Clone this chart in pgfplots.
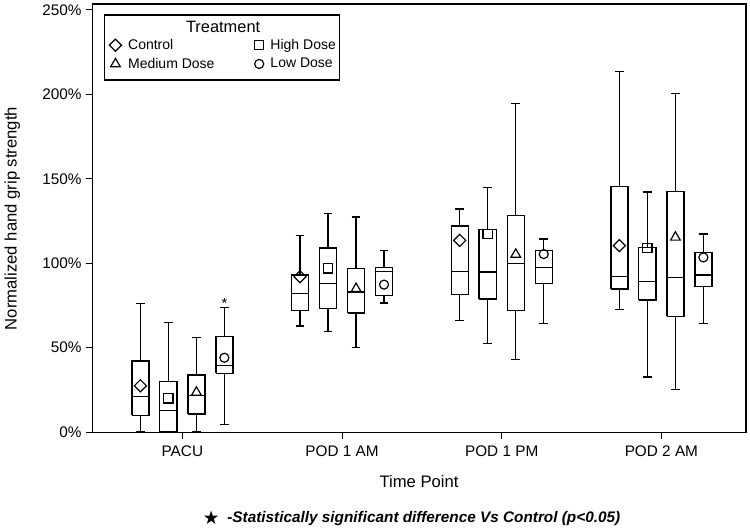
\documentclass[border=0pt]{standalone}
\usepackage{pgfplots}
\pgfplotsset{compat=1.18}
\usepackage{fontspec}
\setmainfont{Liberation Sans}
\newfontfamily\symfont{DejaVu Sans}
\begin{document}
\begin{tikzpicture}
\begin{axis}[
  scale only axis, width=490.5pt, height=321.75pt,
  xmin=-0.565, xmax=3.53, ymin=-0.5, ymax=253.5,
  xtick={0,1,2,3}, xticklabels={PACU,POD 1 AM,POD 1 PM,POD 2 AM},
  ytick={0,50,100,150,200,250},
  yticklabel={\pgfmathprintnumber{\tick}\%},
  /pgf/number format/assume math mode=true,
  tick align=outside, xtick pos=left, ytick pos=left,
  major tick length=4.5pt,
  tick style={black, line width=0.8pt},
  axis line style={black, line width=0.8pt},
  ticklabel style={font=\fontsize{11.5}{13}\selectfont},
  xticklabel style={yshift=-2pt},
  xlabel={Time Point}, ylabel={Normalized hand grip strength},
  label style={font=\fontsize{12.5}{15}\selectfont},
  xlabel style={at={(axis description cs:0.5,-0.1135)}, anchor=center},
  ylabel style={at={(axis description cs:-0.1223,0.5)}, anchor=center},
  clip=false,
  unbounded coords=jump,
  bx/.style={black, line width=1pt, forget plot, mark=none, line join=miter},
  legend columns=2,
  legend cell align=left,
  legend style={at={(axis description cs:0.026,0.925)}, anchor=north west, draw=none, fill=none,
    inner sep=0pt, font=\fontsize{10.5}{12}\selectfont, row sep=1pt,
    /tikz/every odd column/.append style={column sep=3pt},
    /tikz/every even column/.append style={column sep=28pt}},
]
% box = outline, median, upper whisker + cap, lower whisker + cap
% ---- PACU
\addplot[bx] coordinates {(-0.3165,9.8)(-0.2095,9.8)(-0.2095,42)(-0.3165,42)(-0.3165,9.8) (0,nan) (-0.3165,21)(-0.2095,21) (0,nan) (-0.263,42)(-0.263,76) (0,nan) (-0.2905,76)(-0.2355,76) (0,nan) (-0.263,9.8)(-0.263,0) (0,nan) (-0.2905,0)(-0.2355,0)};
\addplot[bx] coordinates {(-0.1415,0)(-0.0345,0)(-0.0345,30)(-0.1415,30)(-0.1415,0) (0,nan) (-0.1415,12.6)(-0.0345,12.6) (0,nan) (-0.088,30)(-0.088,65) (0,nan) (-0.1155,65)(-0.0605,65)};
\addplot[bx] coordinates {(0.0345,10.6)(0.1415,10.6)(0.1415,33.8)(0.0345,33.8)(0.0345,10.6) (0,nan) (0.0345,21.5)(0.1415,21.5) (0,nan) (0.088,33.8)(0.088,56) (0,nan) (0.0605,56)(0.1155,56) (0,nan) (0.088,10.6)(0.088,0) (0,nan) (0.0605,0)(0.1155,0)};
\addplot[bx] coordinates {(0.2095,34.7)(0.3165,34.7)(0.3165,56.5)(0.2095,56.5)(0.2095,34.7) (0,nan) (0.2095,39.5)(0.3165,39.5) (0,nan) (0.263,56.5)(0.263,73.8) (0,nan) (0.2355,73.8)(0.2905,73.8) (0,nan) (0.263,34.7)(0.263,4.5) (0,nan) (0.2355,4.5)(0.2905,4.5)};
% ---- POD 1 AM
\addplot[bx] coordinates {(0.6835,71.9)(0.7905,71.9)(0.7905,93)(0.6835,93)(0.6835,71.9) (0,nan) (0.6835,82)(0.7905,82) (0,nan) (0.737,93)(0.737,116.5) (0,nan) (0.7095,116.5)(0.7645,116.5) (0,nan) (0.737,71.9)(0.737,62.8) (0,nan) (0.7095,62.8)(0.7645,62.8)};
\addplot[bx] coordinates {(0.8585,73)(0.9655,73)(0.9655,109)(0.8585,109)(0.8585,73) (0,nan) (0.8585,87.9)(0.9655,87.9) (0,nan) (0.912,109)(0.912,129.5) (0,nan) (0.8845,129.5)(0.9395,129.5) (0,nan) (0.912,73)(0.912,59.4) (0,nan) (0.8845,59.4)(0.9395,59.4)};
\addplot[bx] coordinates {(1.0345,70.5)(1.1415,70.5)(1.1415,96.9)(1.0345,96.9)(1.0345,70.5) (0,nan) (1.0345,82.9)(1.1415,82.9) (0,nan) (1.088,96.9)(1.088,127.4) (0,nan) (1.0605,127.4)(1.1155,127.4) (0,nan) (1.088,70.5)(1.088,50) (0,nan) (1.0605,50)(1.1155,50)};
\addplot[bx] coordinates {(1.2095,80.7)(1.3165,80.7)(1.3165,97.5)(1.2095,97.5)(1.2095,80.7) (0,nan) (1.2095,95.1)(1.3165,95.1) (0,nan) (1.263,97.5)(1.263,107.6) (0,nan) (1.2355,107.6)(1.2905,107.6) (0,nan) (1.263,80.7)(1.263,76.4) (0,nan) (1.2355,76.4)(1.2905,76.4)};
% ---- POD 1 PM
\addplot[bx] coordinates {(1.6835,81.3)(1.7905,81.3)(1.7905,122)(1.6835,122)(1.6835,81.3) (0,nan) (1.6835,95.1)(1.7905,95.1) (0,nan) (1.737,122)(1.737,132) (0,nan) (1.7095,132)(1.7645,132) (0,nan) (1.737,81.3)(1.737,66.1) (0,nan) (1.7095,66.1)(1.7645,66.1)};
\addplot[bx] coordinates {(1.8585,78.8)(1.9655,78.8)(1.9655,119.8)(1.8585,119.8)(1.8585,78.8) (0,nan) (1.8585,94.8)(1.9655,94.8) (0,nan) (1.912,119.8)(1.912,145) (0,nan) (1.8845,145)(1.9395,145) (0,nan) (1.912,78.8)(1.912,52.5) (0,nan) (1.8845,52.5)(1.9395,52.5)};
\addplot[bx] coordinates {(2.0345,71.9)(2.1415,71.9)(2.1415,128.1)(2.0345,128.1)(2.0345,71.9) (0,nan) (2.0345,99.9)(2.1415,99.9) (0,nan) (2.088,128.1)(2.088,194.5) (0,nan) (2.0605,194.5)(2.1155,194.5) (0,nan) (2.088,71.9)(2.088,42.8) (0,nan) (2.0605,42.8)(2.1155,42.8)};
\addplot[bx] coordinates {(2.2095,88)(2.3165,88)(2.3165,107.6)(2.2095,107.6)(2.2095,88) (0,nan) (2.2095,97.5)(2.3165,97.5) (0,nan) (2.263,107.6)(2.263,114.3) (0,nan) (2.2355,114.3)(2.2905,114.3) (0,nan) (2.263,88)(2.263,64.3) (0,nan) (2.2355,64.3)(2.2905,64.3)};
% ---- POD 2 AM
\addplot[bx] coordinates {(2.6835,84.7)(2.7905,84.7)(2.7905,145.5)(2.6835,145.5)(2.6835,84.7) (0,nan) (2.6835,92.2)(2.7905,92.2) (0,nan) (2.737,145.5)(2.737,213.7) (0,nan) (2.7095,213.7)(2.7645,213.7) (0,nan) (2.737,84.7)(2.737,72.5) (0,nan) (2.7095,72.5)(2.7645,72.5)};
\addplot[bx] coordinates {(2.8585,78.2)(2.9655,78.2)(2.9655,109.2)(2.8585,109.2)(2.8585,78.2) (0,nan) (2.8585,89)(2.9655,89) (0,nan) (2.912,109.2)(2.912,142.2) (0,nan) (2.8845,142.2)(2.9395,142.2) (0,nan) (2.912,78.2)(2.912,32.6) (0,nan) (2.8845,32.6)(2.9395,32.6)};
\addplot[bx] coordinates {(3.0345,68.5)(3.1415,68.5)(3.1415,142.5)(3.0345,142.5)(3.0345,68.5) (0,nan) (3.0345,91.4)(3.1415,91.4) (0,nan) (3.088,142.5)(3.088,200.6) (0,nan) (3.0605,200.6)(3.1155,200.6) (0,nan) (3.088,68.5)(3.088,25) (0,nan) (3.0605,25)(3.1155,25)};
\addplot[bx] coordinates {(3.2095,86.1)(3.3165,86.1)(3.3165,106.2)(3.2095,106.2)(3.2095,86.1) (0,nan) (3.2095,93)(3.3165,93) (0,nan) (3.263,106.2)(3.263,117.3) (0,nan) (3.2355,117.3)(3.2905,117.3) (0,nan) (3.263,86.1)(3.263,64.2) (0,nan) (3.2355,64.2)(3.2905,64.2)};

% ---- means
\addplot[only marks, mark=square, mark size=3.2pt, mark options={rotate=45, black, line width=0.9pt}]
  coordinates {(-0.263,27.4) (0.737,92) (1.737,113.5) (2.737,110.4)};
\addlegendentry{Control}
\addplot[only marks, mark=square, mark size=3.5pt, mark options={black, line width=0.9pt}]
  coordinates {(-0.088,20) (0.912,96.9) (1.912,117.3) (2.912,109)};
\addlegendentry{High Dose}
\addplot[only marks, mark=triangle, mark size=4.2pt, mark options={black, line width=0.9pt}]
  coordinates {(0.088,23.5) (1.088,84.9) (2.088,105.2) (3.088,115.3)};
\addlegendentry{Medium Dose}
\addplot[only marks, mark=o, mark size=3.4pt, mark options={black, line width=0.9pt}]
  coordinates {(0.263,44) (1.263,87.3) (2.263,105.4) (3.263,103.4)};
\addlegendentry{Low Dose}

% legend frame and title
\draw[black, line width=0.8pt] (axis description cs:0.0183,0.8228) rectangle (axis description cs:0.3777,0.9744);
\node[font=\fontsize{12.3}{14}\selectfont] at (axis description cs:0.2003,0.947) {Treatment};

% significance marker
\node[anchor=base, inner sep=0pt, font=\fontsize{11}{13}\selectfont] at (axis cs:0.263,73.3) {*};

% footnote
\node[anchor=center, inner sep=0pt, font=\symfont\fontsize{14}{16}\selectfont] at (axis description cs:0.1820,-0.1981) {★};
\node[anchor=base west, inner sep=0pt, font=\bfseries\itshape\fontsize{11.5}{14}\selectfont] at (axis description cs:0.2064,-0.2091) {-Statistically significant difference Vs Control (p<0.05)};

% invisible frame fixing the picture size
\path (axis description cs:-0.1407,-0.2261) rectangle (axis description cs:1.0061,1.0093);
\end{axis}
\end{tikzpicture}
\end{document}
